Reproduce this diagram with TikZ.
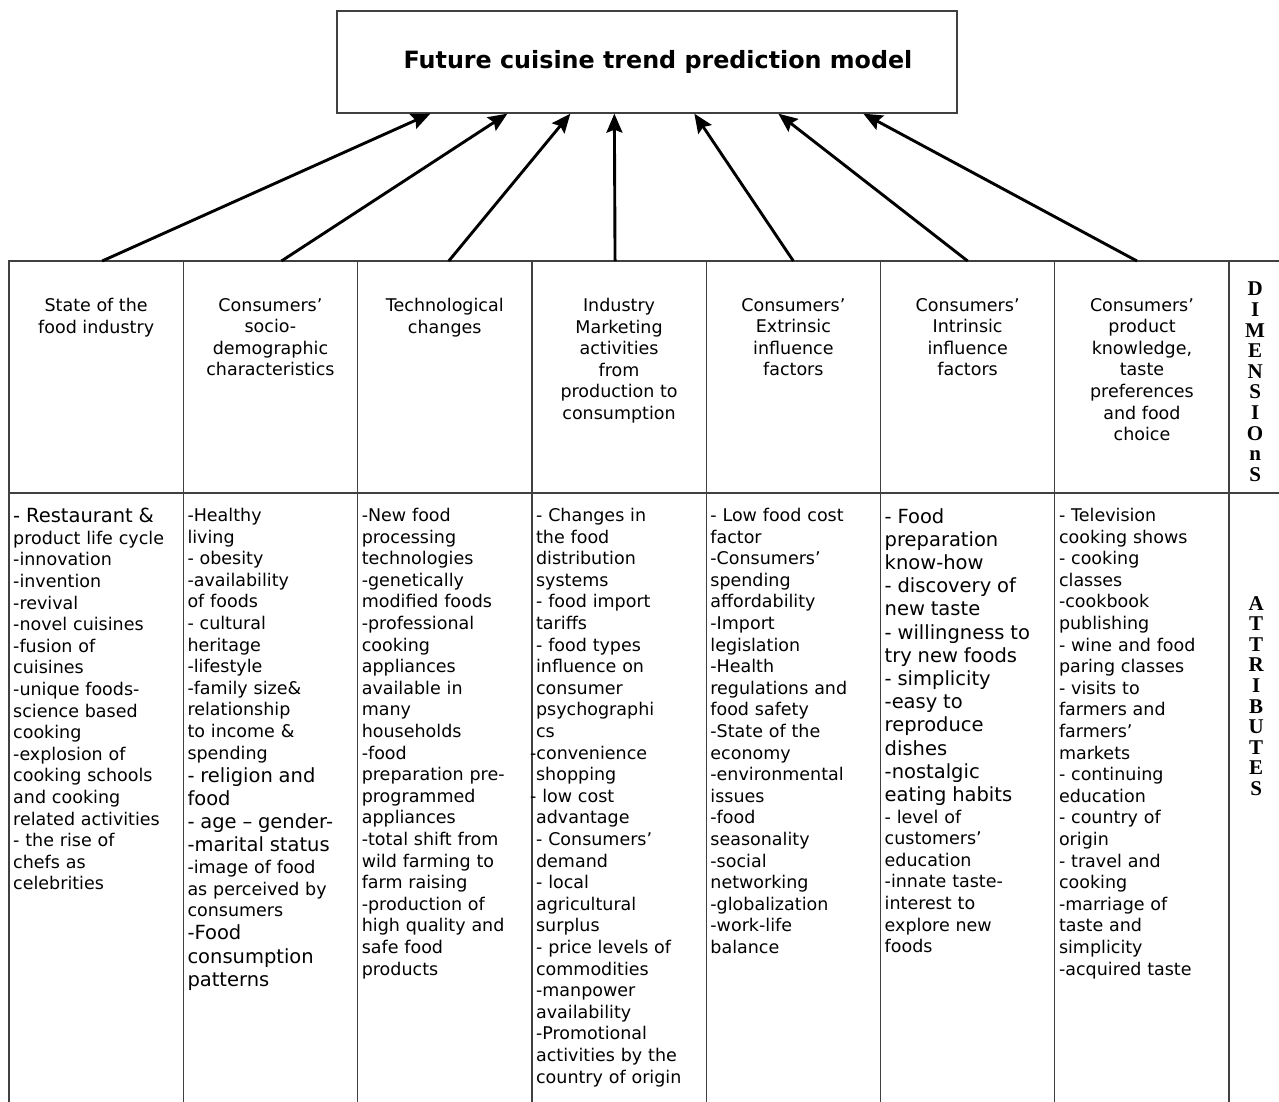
\documentclass[tikz,border=0pt]{standalone}
\usepackage{fontspec}
\setmainfont{DejaVu Sans}
\newfontfamily\dimfont{Liberation Serif}
\usetikzlibrary{calc,positioning,arrows.meta}

\newcommand\attrsize{\fontsize{17.5}{21.6}\selectfont}
\newcommand\attrbig{\fontsize{19.5}{23.2}\selectfont}
\newcommand\sidesize{\fontsize{21}{20.6}\selectfont}

\tikzset{
  cell/.style={draw=black!75, line width=1.3pt, outer sep=0pt, inner sep=0pt, minimum width=174.3pt},
  headcell/.style={cell, minimum height=232pt},
  bodycell/.style={cell, minimum height=615pt},
  headtext/.style={anchor=north, align=center, inner sep=0pt, font=\attrsize},
  bodytext/.style={anchor=north west, text width=200pt, align=left, inner sep=0pt, font=\attrsize},
  sidetext/.style={anchor=north, align=center, inner sep=0pt, font=\dimfont\bfseries\sidesize},
  feed/.style={-{Stealth[length=19pt,width=16pt,inset=3pt]}, line width=2.9pt},
}

\begin{document}
\begin{tikzpicture}[x=1pt,y=-1pt]
              \useasboundingbox (0,0) rectangle (1279,1101);

              \node[draw=black!75, line width=1.3pt, minimum width=620pt, minimum height=102pt,
                font=\bfseries\fontsize{23.8}{28}\selectfont] (title) at (647,62)
                {\hspace*{22pt}Future cuisine trend prediction model};

              \node[headcell, anchor=north west] (h1) at (9,261) {};
              \foreach \k in {2,...,7} {\pgfmathtruncatemacro\j{\k-1}\node[headcell, right=0pt of h\j] (h\k) {};};
              \node[headcell, minimum width=60pt, right=0pt of h7] (hd) {};
              \foreach \k in {1,...,7} {\node[bodycell, below=0pt of h\k] (c\k) {};};
              \node[bodycell, minimum width=60pt, below=0pt of hd] (cd) {};

              \node[headtext] (n1) at ($(h1.north)+(0,37)$) {State of the\\food industry};
              \node[headtext] (n2) at ($(h2.north)+(0,37)$) {Consumers’\\socio-\\demographic\\characteristics};
              \node[headtext] (n3) at ($(h3.north)+(0,37)$) {Technological\\changes};
              \node[headtext] (n4) at ($(h4.north)+(0,37)$) {Industry\\Marketing\\activities\\from\\production to\\consumption};
              \node[headtext] (n5) at ($(h5.north)+(0,37)$) {Consumers’\\Extrinsic\\influence\\factors};
              \node[headtext] (n6) at ($(h6.north)+(0,37)$) {Consumers’\\Intrinsic\\influence\\factors};
              \node[headtext] (n7) at ($(h7.north)+(0,37)$) {Consumers’\\product\\knowledge,\\taste\\preferences\\and food\\choice};

              \node[bodytext] (a1) at ($(c1.north west)+(4,15)$) {{\attrbig - Restaurant \&}\\product life cycle\\-innovation\\-invention\\-revival\\-novel cuisines\\-fusion of\\cuisines\\-unique foods-\\science based\\cooking\\-explosion of\\cooking schools\\and cooking\\related activities\\- the rise of\\chefs as\\celebrities};
              \node[bodytext] (a2) at ($(c2.north west)+(4,15)$) {-Healthy\\living\\- obesity\\-availability\\of foods\\- cultural\\heritage\\-lifestyle\\-family size\&\\relationship\\to income \&\\spending\par
                {\attrbig - religion and\\food\\- age – gender-\\-marital status\par}
                -image of food\\as perceived by\\consumers\par
                {\attrbig -Food\\consumption\\patterns\par}};
              \node[bodytext] (a3) at ($(c3.north west)+(4,15)$) {-New food\\processing\\technologies\\-genetically\\modified foods\\-professional\\cooking\\appliances\\available in\\many\\households\\-food\\preparation pre-\\programmed\\appliances\\-total shift from\\wild farming to\\farm raising\\-production of\\high quality and\\safe food\\products};
              \node[bodytext] (a4) at ($(c4.north west)+(4,15)$) {- Changes in\\the food\\distribution\\systems\\- food import\\tariffs\\- food types\\influence on\\consumer\\psychographi\\cs\\\hspace*{-6pt}-convenience\\shopping\\\hspace*{-6pt}- low cost\\advantage\\- Consumers’\\demand\\- local\\agricultural\\surplus\\- price levels of\\commodities\\-manpower\\availability\\-Promotional\\activities by the\\country of origin};
              \node[bodytext] (a5) at ($(c5.north west)+(4,15)$) {- Low food cost\\factor\\-Consumers’\\spending\\affordability\\-Import\\legislation\\-Health\\regulations and\\food safety\\-State of the\\economy\\-environmental\\issues\\-food\\seasonality\\-social\\networking\\-globalization\\-work-life\\balance};
              \node[bodytext] (a6) at ($(c6.north west)+(4,15)$) {{\attrbig - Food\\preparation\\know-how\\- discovery of\\new taste\\- willingness to\\try new foods\\- simplicity\\-easy to\\reproduce\\dishes\\-nostalgic\\eating habits\par}
                - level of\\customers’\\education\\-innate taste-\\interest to\\explore new\\foods};
              \node[bodytext] (a7) at ($(c7.north west)+(4,15)$) {- Television\\cooking shows\\- cooking\\classes\\-cookbook\\publishing\\- wine and food\\paring classes\\- visits to\\farmers and\\farmers’\\markets\\- continuing\\education\\- country of\\origin\\- travel and\\cooking\\-marriage of\\taste and\\simplicity\\-acquired taste};

              \node[sidetext] (dim) at ($(hd.north west)+(26,21)$) {D\\I\\M\\E\\N\\S\\I\\O\\n\\S};
              \node[sidetext] (att) at ($(cd.north west)+(27,103)$) {A\\T\\T\\R\\I\\B\\U\\T\\E\\S};

              \foreach \k/\s/\t in {1/6/94, 2/11/171, 3/4/234, 4/-4/278, 5/0/358, 6/0/442, 7/-5/527}
                {\draw[feed] ($(h\k.north)+(\s,0)$) -- ($(title.south west)+(\t,0)$);};
\end{tikzpicture}
\end{document}
